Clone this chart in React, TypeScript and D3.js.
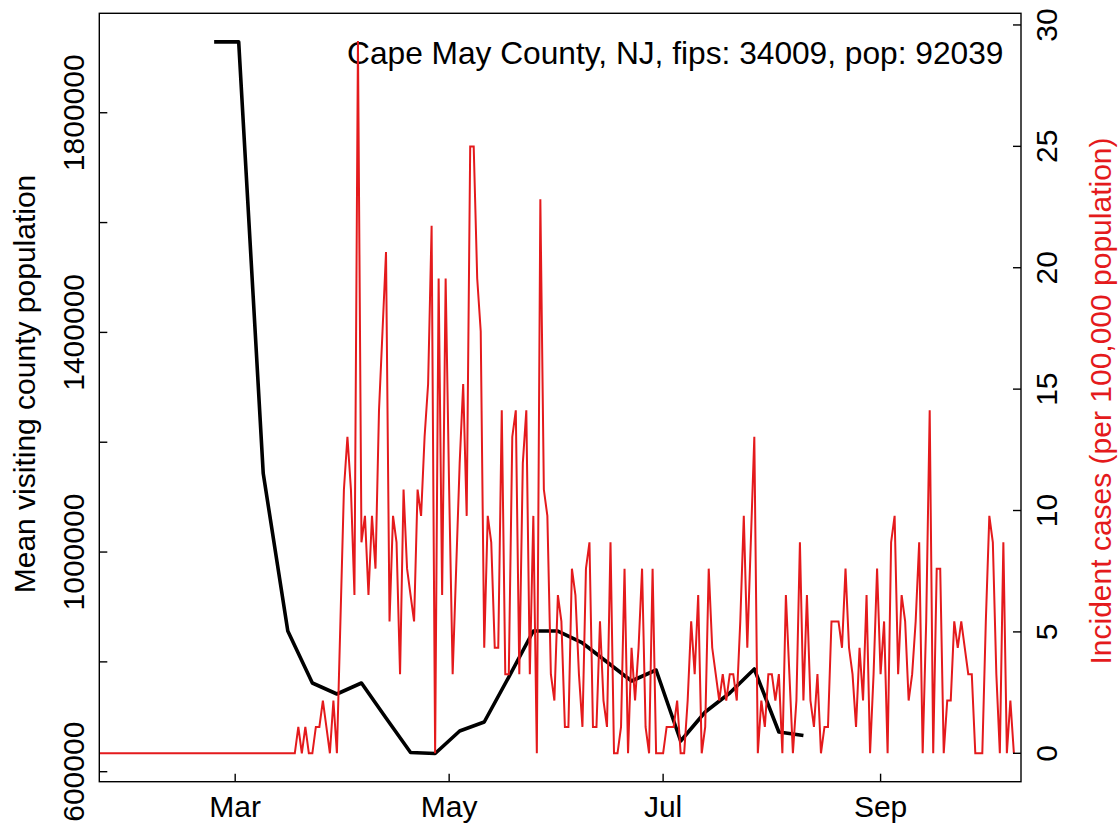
import React from 'react';
import * as d3 from 'd3';

// county and population shown in the title
const countyLabel = 'Cape May County, NJ, fips: 34009, pop: 92039';
const population = 92039;

// daily incident case counts, starting Jan 21 2020
const caseStart = new Date(2020, 0, 21);
const dailyCases = [
  0, 0, 0, 0, 0, 0, 0, 0, 0, 0, 0, 0, 0, 0, 0, 0, 0, 0, 0, 0,
  0, 0, 0, 0, 0, 0, 0, 0, 0, 0, 0, 0, 0, 0, 0, 0, 0, 0, 0, 0,
  0, 0, 0, 0, 0, 0, 0, 0, 0, 0, 0, 0, 0, 0, 0, 0, 0, 0,
  1, 0, 1, 0, 0, 1, 1, 2, 1, 0,
  2, 0, 5, 10, 12, 10, 6, 27, 8, 9,
  6, 9, 7, 13, 16, 19, 5, 9, 8, 3,
  10, 7, 6, 5, 10, 9, 12, 14, 20, 0,
  18, 6, 18, 10, 3, 7, 11, 14, 9, 23,
  23, 18, 16, 4, 9, 8, 4, 4, 13, 3,
  3, 12, 13, 3, 11, 13, 3, 9, 0, 21,
  10, 9, 3, 2, 6, 5, 1, 1, 7, 6,
  3, 1, 7, 8, 1, 1, 5, 2, 1, 8,
  0, 0, 1, 7, 0, 4, 2, 4, 7, 1,
  0, 7, 0, 0, 0, 1, 1, 1, 2, 0,
  0, 2, 5, 3, 6, 0, 1, 7, 4, 3,
  2, 3, 2, 3, 3, 2, 5, 9, 4, 8,
  12, 0, 2, 1, 3, 3, 2, 3, 0, 6,
  3, 0, 2, 8, 2, 6, 2, 1, 3, 0,
  1, 1, 5, 5, 5, 4, 7, 4, 3, 1,
  4, 2, 6, 0, 3, 7, 3, 5, 0, 8,
  9, 3, 6, 5, 2, 3, 5, 8, 0, 5,
  13, 0, 7, 7, 0, 2, 2, 5, 4, 5,
  4, 3, 3, 0, 0, 0, 5, 9, 8, 3,
  0, 8, 0, 2, 0,
];

// weekly mean visiting county population, starting Feb 24 2020
const visitStart = new Date(2020, 1, 24);
const weeklyVisiting = [
  1929000, 1929000, 1143000, 856200, 761500, 741500, 761500, 697800, 635000,
  633100, 674100, 690500, 772400, 856200, 856200, 834400, 799800, 765200,
  785200, 655900, 708700, 743300, 787000, 672300, 665900,
];

const leftTicks = [600000, 800000, 1000000, 1200000, 1400000, 1600000, 1800000];
const leftLabels = [600000, 1000000, 1400000, 1800000];
const rightTicks = [0, 5, 10, 15, 20, 25, 30];

const W = 1119;
const H = 827;
const box = { left: 99.3, right: 1021, top: 13.3, bottom: 781.7 };
const font = '"Liberation Sans", Arial, Helvetica, sans-serif';
const red = '#E41A1C';
const tick = 8;

export default function App() {
  const x = d3
    .scaleTime()
    .domain([new Date(2020, 0, 22, 6, 14), new Date(2020, 9, 11, 0, 43)])
    .range([box.left, box.right]);
  const yL = d3.scaleLinear().domain([581790, 1981100]).range([box.bottom, box.top]);
  const yR = d3.scaleLinear().domain([-1.17, 30.48]).range([box.bottom, box.top]);

  const cases = dailyCases.map((c, i) => ({
    date: d3.timeDay.offset(caseStart, i),
    rate: (c * 100000) / population,
  }));
  const visits = weeklyVisiting.map((v, i) => ({
    date: d3.timeDay.offset(visitStart, i * 7),
    value: v,
  }));

  const redLine = d3
    .line<{ date: Date; rate: number }>()
    .x((d) => x(d.date))
    .y((d) => yR(d.rate));
  const blackLine = d3
    .line<{ date: Date; value: number }>()
    .x((d) => x(d.date))
    .y((d) => yL(d.value));

  const monthTicks = x.ticks(d3.timeMonth.every(2)!);
  const fmt = d3.timeFormat('%b');

  return (
    <svg
      width={W}
      height={H}
      style={{ position: 'absolute', left: 0, top: 0, background: '#fff' }}
      fontFamily={font}
    >
      <defs>
        <clipPath id="plot">
          <rect x={box.left} y={box.top} width={box.right - box.left} height={box.bottom - box.top} />
        </clipPath>
      </defs>

      <text x={347} y={63.5} fontSize={31.7} fill="#000">
        {countyLabel}
      </text>

      <g clipPath="url(#plot)">
        <path d={blackLine(visits)!} fill="none" stroke="#000" strokeWidth={3.6} strokeLinejoin="round" />
        <path d={redLine(cases)!} fill="none" stroke={red} strokeWidth={2} strokeLinejoin="miter" />
      </g>

      <rect
        x={box.left}
        y={box.top}
        width={box.right - box.left}
        height={box.bottom - box.top}
        fill="none"
        stroke="#000"
        strokeWidth={1.4}
      />

      {/* left axis */}
      {leftTicks.map((t) => (
        <line key={t} x1={box.left} x2={box.left + tick} y1={yL(t)} y2={yL(t)} stroke="#000" strokeWidth={1.4} />
      ))}
      {leftLabels.map((t) => (
        <text
          key={t}
          transform={`translate(83.5,${yL(t)}) rotate(-90)`}
          textAnchor="middle"
          fontSize={30}
        >
          {t}
        </text>
      ))}
      <text
        transform={`translate(35,384) rotate(-90)`}
        textAnchor="middle"
        fontSize={30}
      >
        Mean visiting county population
      </text>

      {/* right axis */}
      {rightTicks.map((t) => (
        <g key={t}>
          <line x1={box.right - tick} x2={box.right} y1={yR(t)} y2={yR(t)} stroke="#000" strokeWidth={1.4} />
          <text transform={`translate(1057,${yR(t)}) rotate(-90)`} textAnchor="middle" fontSize={30}>
            {t}
          </text>
        </g>
      ))}
      <text
        transform={`translate(1111,401) rotate(-90)`}
        textAnchor="middle"
        fontSize={30}
        fill={red}
      >
        Incident cases (per 100,000 population)
      </text>

      {/* bottom axis */}
      {monthTicks.map((m) => (
        <g key={m.getTime()}>
          <line x1={x(m)} x2={x(m)} y1={box.bottom} y2={box.bottom - tick} stroke="#000" strokeWidth={1.4} />
          <text x={x(m)} y={817} textAnchor="middle" fontSize={30}>
            {fmt(m)}
          </text>
        </g>
      ))}
    </svg>
  );
}
